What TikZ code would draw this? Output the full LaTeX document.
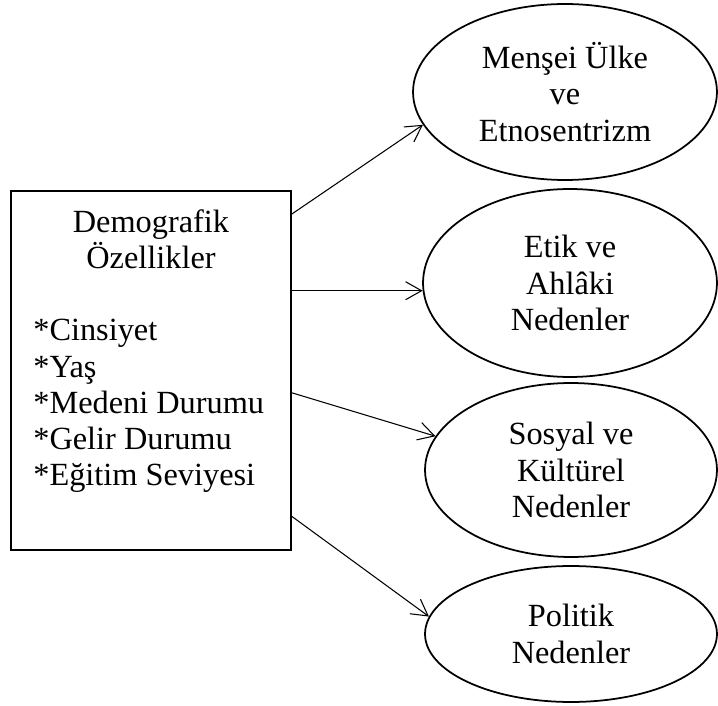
\documentclass[tikz,border=0pt]{standalone}
\usepackage{fontspec}
\setmainfont{Liberation Serif}
\usetikzlibrary{shapes.geometric, positioning, arrows.meta}
\tikzset{>={Straight Barb[length=3.2mm,width=3.6mm]},
  lbl/.style={inner sep=0pt, font=\fontsize{18.4}{20.6}\selectfont, align=center},
  reason/.style={ellipse, draw, line width=1pt, lbl},
  demobox/.style={rectangle, draw, line width=1.1pt, minimum width=5.6cm, minimum height=7.18cm},
  conn/.style={->, line width=0.6pt}
}
\begin{document}
\begin{tikzpicture}[x=0.02cm, y=-0.02cm]
\useasboundingbox (0,0) rectangle (718,706);
\node[demobox] (demo) at (151,370.5) {};
\node[lbl, below=0.38cm of demo.north] (demotitle) {Demografik\\Özellikler};
\node[lbl, align=left, anchor=west] (demolist) at (33,406) {*Cinsiyet\\*Yaş\\*Medeni Durumu\\*Gelir Durumu\\*Eğitim Seviyesi};
% reasons
\node[reason, minimum width=6.08cm, minimum height=3.52cm] (origin) at (565,92) {Menşei Ülke\\ve\\Etnosentrizm};
\node[reason, minimum width=5.88cm, minimum height=3.76cm] (ethic) at (570,283) {Etik ve\\Ahlâki\\Nedenler};
\node[reason, minimum width=5.84cm, minimum height=3.48cm] (social) at (571,470) {Sosyal ve\\Kültürel\\Nedenler};
\node[reason, minimum width=5.84cm, minimum height=2.72cm] (politic) at (571,634) {Politik\\Nedenler};
% arrows
\draw[conn] (demo.48.9) -- (origin.193.4);
\draw[conn] (demo.east |- ethic.183) -- (ethic.183);
\draw[conn] (demo.-9.1) -- (social.166.8);
\draw[conn] (demo.-46.3) -- (politic.173.1);
\end{tikzpicture}
\end{document}
